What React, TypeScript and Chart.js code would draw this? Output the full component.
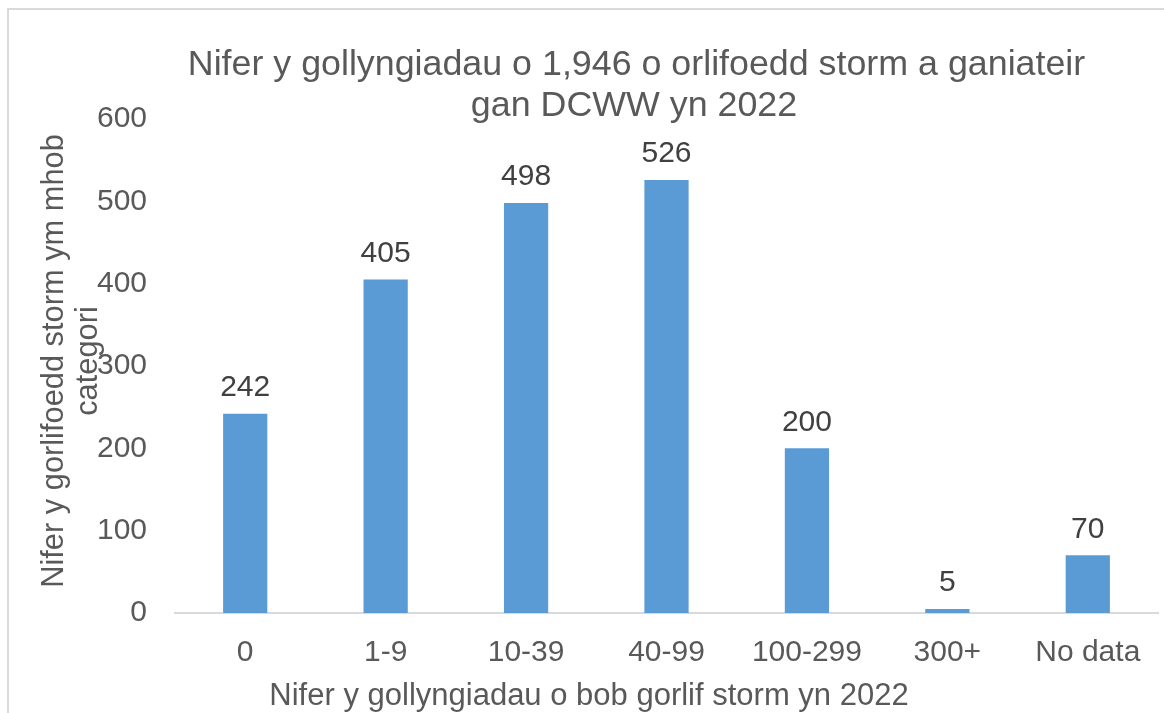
import { useEffect, useRef } from "react";
import { Chart, registerables } from "chart.js";

Chart.register(...registerables);

const categories = ["0", "1-9", "10-39", "40-99", "100-299", "300+", "No data"];
const counts = [242, 405, 498, 526, 200, 5, 70];
const yTickValues = [0, 100, 200, 300, 400, 500, 600];
const titleLines = ["Nifer y gollyngiadau o 1,946 o orlifoedd storm a ganiateir", "gan DCWW yn 2022"];
const yTitleLines = ["Nifer y gorlifoedd storm ym mhob", "categori"];
const xTitle = "Nifer y gollyngiadau o bob gorlif storm yn 2022";

const FONT = "'Liberation Sans', Arial, sans-serif";
const TEXT = "#595959";
const LABEL = "#404040";
const BAR = "#5b9bd5";
const LINE = "#d9d9d9";

const decorPlugin = {
  id: "decor",
  beforeDraw(chart: any) {
    const ctx = chart.ctx;
    ctx.save();
    ctx.fillStyle = "#ffffff";
    ctx.fillRect(0, 0, chart.width, chart.height);
    ctx.strokeStyle = LINE;
    ctx.lineWidth = 2;
    ctx.strokeRect(8, 9, 1400, 900);
    ctx.restore();
  },
  afterDraw(chart: any) {
    const ctx = chart.ctx;
    ctx.save();
    ctx.fillStyle = TEXT;
    // title
    ctx.font = `35.8px ${FONT}`;
    ctx.textAlign = "center";
    ctx.textBaseline = "alphabetic";
    ctx.fillText(titleLines[0], 636.5, 75);
    ctx.fillText(titleLines[1], 634, 116);
    // x title
    ctx.font = `31px ${FONT}`;
    ctx.fillText(xTitle, 589, 705);
    // y title
    ctx.font = `30.8px ${FONT}`;
    const yc = 361;
    [63, 97].forEach((x, i) => {
      ctx.save();
      ctx.translate(x, yc);
      ctx.rotate(-Math.PI / 2);
      ctx.fillText(yTitleLines[i], 0, 0);
      ctx.restore();
    });
    // data labels
    ctx.font = `30px ${FONT}`;
    ctx.fillStyle = LABEL;
    const meta = chart.getDatasetMeta(0);
    meta.data.forEach((bar: any, i: number) => {
      ctx.fillText(String(counts[i]), bar.x, bar.y - 17.5);
    });
    ctx.restore();
  },
};

export default function App() {
  const ref = useRef<HTMLCanvasElement>(null);
  useEffect(() => {
    document.body.style.margin = "0";
    const chart = new Chart(ref.current!, {
      type: "bar",
      data: {
        labels: categories,
        datasets: [
          {
            data: counts,
            backgroundColor: BAR,
            borderWidth: 0,
            barPercentage: 0.315,
            categoryPercentage: 1,
          },
        ],
      },
      options: {
        responsive: false,
        animation: false,
        devicePixelRatio: 1,
        layout: { padding: { top: 119, right: 6, bottom: 0, left: 0 } },
        plugins: { legend: { display: false }, title: { display: false }, tooltip: { enabled: false } },
        scales: {
          x: {
            grid: { display: false, drawTicks: false },
            border: { display: true, color: LINE, width: 2 },
            ticks: { color: TEXT, font: { family: FONT, size: 30 }, padding: 22, maxRotation: 0, autoSkip: false },
            afterFit(scale: any) {
              scale.height = 100;
            },
          },
          y: {
            min: 0,
            max: 600,
            grid: { display: false, drawTicks: false },
            border: { display: false },
            afterBuildTicks(scale: any) {
              scale.ticks = yTickValues.map((v) => ({ value: v }));
            },
            ticks: { color: TEXT, font: { family: FONT, size: 30 }, padding: 28 },
            afterFit(scale: any) {
              scale.width = 175;
            },
          },
        },
      },
      plugins: [decorPlugin],
    });
    return () => chart.destroy();
  }, []);
  return (
    <div style={{ position: "fixed", left: 0, top: 0, width: 1164, height: 713 }}>
      <canvas ref={ref} width={1164} height={713} style={{ display: "block" }} />
    </div>
  );
}
